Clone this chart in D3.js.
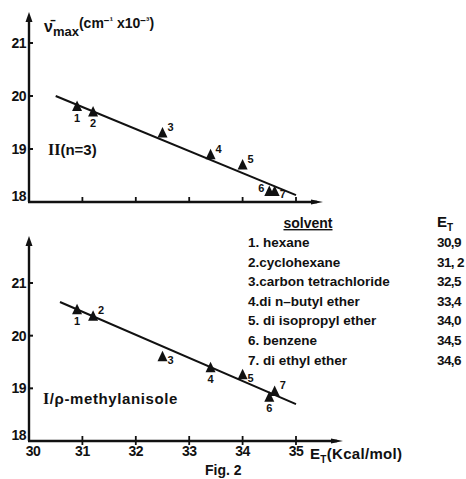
<!DOCTYPE html>
<html><head><meta charset="utf-8">
<script src="https://cdn.jsdelivr.net/npm/d3@7"></script>
<style>
body{margin:0;background:#fff;}
text{font-family:"Liberation Sans",Arial,sans-serif;font-weight:bold;fill:#111;}
</style></head>
<body><svg id="c" width="466" height="479"></svg>
<script>
// ---- data ----
const solventNums = [1,2,3,4,5,6,7];
const legendNames = ["1. hexane","2.cyclohexane","3.carbon tetrachloride","4.di n\u2013butyl ether","5. di isopropyl ether","6. benzene","7. di ethyl ether"];
const etValues = [30.9,31.2,32.5,33.4,34.0,34.5,34.6];
const etLabels = ["30,9","31, 2","32,5","33,4","34,0","34,5","34,6"];
const nuTop = [19.8,19.7,19.3,18.89,18.7,18.2,18.2];      // II (n=3)
const nuBottom = [20.49,20.37,19.6,19.39,19.26,18.83,18.94]; // I / p-methylanisole
const fitTop = [[30.5,20.0],[35.0,18.13]];
const fitBottom = [[30.58,20.64],[35.0,18.7]];
const xTicks = [30,31,32,33,34,35];
const yTicks = [18,19,20,21];
// label placement codes (style)
const labPosTop = ["below","below","sup","sup","sup","left","sub"];
const labPosBot = ["below","sup","sub","below","sub","below","sup"];

const svg = d3.select("#c");
const x = d3.scaleLinear().domain([30,35]).range([29,296]);
const yT = d3.scaleLinear().domain([18,21]).range([202,43]);
const yB = d3.scaleLinear().domain([18,21]).range([441,283]);

function axes(y, y0, xEnd, yTop, labelsX, xTickBoth){
  svg.append("line").attr("x1",29).attr("x2",29).attr("y1",y0).attr("y2",yTop+6)
    .attr("stroke","#111").attr("stroke-width",2.4);
  svg.append("path").attr("d",`M29,${yTop} L25.5,${yTop+10} L32.5,${yTop+10} Z`).attr("fill","#111");
  svg.append("line").attr("x1",28).attr("x2",xEnd-6).attr("y1",y0).attr("y2",y0)
    .attr("stroke","#111").attr("stroke-width",2.4);
  svg.append("path").attr("d",`M${xEnd},${y0} L${xEnd-12},${y0-2.5} L${xEnd-12},${y0+2.5} Z`).attr("fill","#111");
  yTicks.forEach(t=>{
    svg.append("line").attr("x1",29).attr("x2",33).attr("y1",y(t)).attr("y2",y(t)).attr("stroke","#111").attr("stroke-width",2);
    svg.append("text").attr("x",26).attr("y",y(t)+ (t===18? -1:5)).attr("text-anchor","end")
      .attr("font-size",14).attr("letter-spacing",-0.5).text(t);
  });
  xTicks.slice(1).forEach(t=>{
    svg.append("line").attr("x1",x(t)).attr("x2",x(t)).attr("y1",y0-5).attr("y2",xTickBoth? y0+4 : y0)
      .attr("stroke","#111").attr("stroke-width",1.8);
  });
  if(labelsX){
    xTicks.forEach(t=>{
      svg.append("text").attr("x",x(t)+(t===30?4:0)).attr("y",y0+15).attr("text-anchor","middle")
        .attr("font-size",14).attr("letter-spacing",-0.5).text(t);
    });
  }
}
axes(yT, 202, 323, 12, false, false);
axes(yB, 441, 343, 236, true, true);

function tri(cx, cy){
  svg.append("path").attr("d",`M${cx},${cy-6} L${cx+5},${cy+4.5} L${cx-5},${cy+4.5} Z`).attr("fill","#111");
}
function series(vals, y, fit, pos){
  svg.append("path").datum(fit).attr("d", d3.line().x(d=>x(d[0])).y(d=>y(d[1])))
    .attr("fill","none").attr("stroke","#111").attr("stroke-width",2);
  vals.forEach((v,i)=>{
    const cx = x(etValues[i]), cy = y(v);
    tri(cx, cy);
    let lx=cx, ly=cy, anchor="middle", fs=11;
    if(pos[i]==="below"){ly=cy+15;}
    else if(pos[i]==="sup"){lx=cx+5; ly=cy-2; anchor="start";}
    else if(pos[i]==="sub"){lx=cx+5; ly=cy+7; anchor="start";}
    else if(pos[i]==="left"){lx=cx-5; ly=cy+1; anchor="end";}
    svg.append("text").attr("x",lx).attr("y",ly).attr("text-anchor",anchor).attr("font-size",fs).text(solventNums[i]);
  });
}
series(nuTop, yT, fitTop, labPosTop);
series(nuBottom, yB, fitBottom, labPosBot);

// y axis title
const tt = svg.append("text").attr("x",44).attr("y",32).attr("font-size",16);
tt.append("tspan").text("\u03BD\u0304");
tt.append("tspan").attr("font-size",13).attr("dy",4).text("max");
tt.append("tspan").attr("font-size",14).attr("dy",-8).text("(cm");
tt.append("tspan").attr("font-size",10).attr("dy",-4).text("\u2212\u00B9");
tt.append("tspan").attr("font-size",14).attr("dy",4).text(" x10");
tt.append("tspan").attr("font-size",10).attr("dy",-4).text("\u2212\u00B3");
tt.append("tspan").attr("font-size",14).attr("dy",4).text(")");

// series titles
svg.append("text").attr("x",48).attr("y",155).attr("font-size",15)
  .html('<tspan font-family="Liberation Serif" font-size="16">II</tspan>(n=3)');
svg.append("text").attr("x",43).attr("y",404).attr("font-size",15).attr("letter-spacing",0.6)
  .html('<tspan font-family="Liberation Serif" font-size="16">I</tspan>/\u03C1-methylanisole');

// x axis title
const xt = svg.append("text").attr("x",310).attr("y",459).attr("font-size",15).attr("letter-spacing",0.3);
xt.append("tspan").text("E");
xt.append("tspan").attr("font-size",10).attr("dy",4).text("T");
xt.append("tspan").attr("dy",-4).text("(Kcal/mol)");

// legend
svg.append("text").attr("x",308).attr("y",228).attr("text-anchor","middle").attr("font-size",14)
  .attr("text-decoration","underline").text("solvent");
const et = svg.append("text").attr("x",437).attr("y",227).attr("font-size",15);
et.append("tspan").text("E");
et.append("tspan").attr("font-size",10).attr("dy",4).text("T");
legendNames.forEach((n,i)=>{
  const yy = 247 + i*19.6;
  svg.append("text").attr("x",248).attr("y",yy).attr("font-size",13.5).text(n);
  svg.append("text").attr("x",437).attr("y",yy).attr("font-size",13.5).attr("letter-spacing",-0.6).text(etLabels[i]);
});

svg.append("text").attr("x",205).attr("y",475).attr("font-size",14).text("Fig. 2");
</script></body></html>
